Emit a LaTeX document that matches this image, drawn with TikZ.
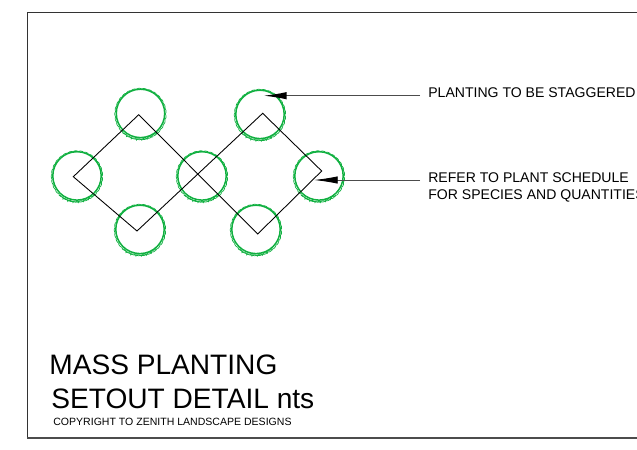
\documentclass[tikz,border=0pt]{standalone}
\usepackage{fontspec}
\setmainfont{Liberation Sans}
\usetikzlibrary{positioning,arrows.meta,decorations.pathmorphing}

\tikzset{
    plant/.style={draw=plantgreen,line width=0.85pt},
    plantrim/.style={draw=plantgreen,line width=0.4pt,
        decorate,decoration={bumps,segment length=6pt,amplitude=0.7pt}},
    note/.style={anchor=base west,inner sep=0pt,align=left,font=\fontsize{8}{9.7}\selectfont},
    leader/.style={draw=black!70,-{Latex[length=13.5pt,width=4.2pt,black]}},
    heading/.style={anchor=base west,inner sep=0pt,font=\fontsize{16}{18}\selectfont},
}
\definecolor{plantgreen}{HTML}{10B040}

\begin{document}
\begin{tikzpicture}[x=0.02cm,y=-0.02cm]
    \useasboundingbox (0,0) rectangle (637,450);

    % Sheet border
    \draw[black!80,line width=0.45pt] (637,12) -- (27,12) -- (27,438);
    \draw[black!70,line width=0.8pt] (27,438) -- (637,438);

    % Plants
    \foreach \px/\py in {140.5/114,77/176.5,140/230,202/176.5,260/115,319/176.5,256/230} {
        \path[plant] (\px,\py-0.6) circle (24.2);
        \path[plantrim] (\px,\py) circle (24.4);
        \path[plantrim] (\px-18,\py+19) arc[start angle=133,end angle=47,radius=25.2];
    }

    % Setout line
    \draw[black,line width=0.5pt] (138.7,114.7) -- (257.7,234) -- (321.7,171)
        -- (262.7,113.3) -- (137,231) -- (73.3,176.7) -- cycle;

    % Notes
    \node[note] (stagger) at (428,97.5) {PLANTING TO BE STAGGERED};
    \node[note,anchor=north west] (schedule) at (428,172.5) {REFER TO PLANT SCHEDULE\\FOR SPECIES AND QUANTITIES};
    \coordinate (staggertip) at (263,95.7);
    \coordinate (scheduletip) at (314,180);
    \coordinate (staggerend) at (420,95.7);
    \coordinate (scheduleend) at (420,180);
    \draw[leader,line width=0.85pt] (staggerend) -- (staggertip);
    \draw[leader,line width=0.5pt] (scheduleend) -- (scheduletip);

    % Title
    \node[heading] (title) at (49,374) {MASS PLANTING};
    \node[heading] (subtitle) at (51,408) {SETOUT DETAIL nts};
    \node[note,font=\fontsize{6}{7}\selectfont] (copyright) at (53,425) {COPYRIGHT TO ZENITH LANDSCAPE DESIGNS};
\end{tikzpicture}
\end{document}
